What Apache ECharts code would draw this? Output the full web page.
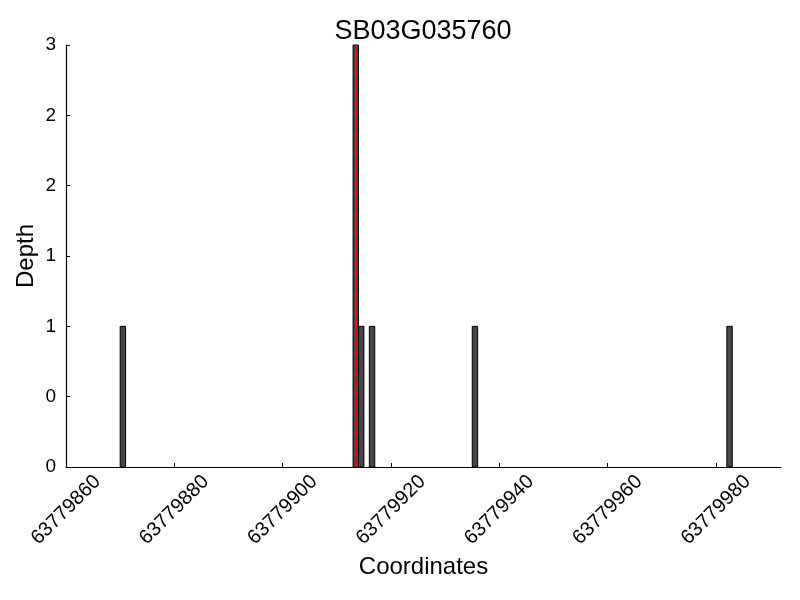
<!DOCTYPE html>
<html>
<head>
<meta charset="utf-8">
<script src="https://cdn.jsdelivr.net/npm/echarts@6/dist/echarts.min.js"></script>
<style>html,body{margin:0;padding:0;background:#fff}#c{width:800px;height:600px}</style>
</head>
<body>
<div id="c"></div>
<script>
const titleText = 'SB03G035760';
const positions = [63779870, 63779913, 63779914, 63779916, 63779935, 63779982];
const depths = [1, 3, 1, 1, 1, 1];
const xTicks = [63779860, 63779880, 63779900, 63779920, 63779940, 63779960, 63779980];
const yTicks = [0, 0.5, 1, 1.5, 2, 2.5, 3];
const markerX = 63779913.5;

const FONT = 'Liberation Sans, Arial, sans-serif';
const chart = echarts.init(document.getElementById('c'), null, {renderer: 'canvas'});
const barData = positions.map((p, i) => [p, depths[i]]);

chart.setOption({
  animation: false,
  backgroundColor: '#fff',
  title: {
    text: titleText,
    left: 418,
    top: 13,
    textAlign: 'center',
    textStyle: {fontFamily: FONT, fontSize: 27, fontWeight: 'normal', color: '#000'}
  },
  grid: {left: 66, right: 19, top: 45, bottom: 133, containLabel: false},
  xAxis: {
    type: 'value',
    min: 63779860,
    max: 63779992,
    interval: 20,
    name: 'Coordinates',
    nameLocation: 'middle',
    nameGap: 88,
    nameMoveOverlap: false,
    nameTextStyle: {fontFamily: FONT, fontSize: 24, color: '#000'},
    axisLine: {show: true, onZero: false, lineStyle: {color: '#000', width: 1.2}},
    axisTick: {show: true, inside: true, length: 4, customValues: xTicks, lineStyle: {color: '#000'}},
    axisLabel: {
      customValues: xTicks,
      rotate: 45,
      align: 'center',
      verticalAlign: 'middle',
      margin: 43,
      fontFamily: FONT, fontSize: 20, color: '#000',
      formatter: v => String(v)
    },
    splitLine: {show: false}
  },
  yAxis: {
    type: 'value',
    min: 0,
    max: 3,
    interval: 0.5,
    name: 'Depth',
    nameLocation: 'middle',
    nameGap: 28,
    nameMoveOverlap: false,
    nameTextStyle: {fontFamily: FONT, fontSize: 24, color: '#000'},
    axisLine: {show: true, onZero: false, lineStyle: {color: '#000', width: 1.2}},
    axisTick: {show: true, inside: true, length: 4, customValues: yTicks, lineStyle: {color: '#000'}},
    axisLabel: {
      customValues: yTicks,
      margin: 10,
      fontFamily: FONT, fontSize: 19, color: '#000',
      formatter: v => String(Math.trunc(v))
    },
    splitLine: {show: false}
  },
  series: [{
    type: 'custom',
    data: barData,
    renderItem: function (params, api) {
      const x = api.value(0), y = api.value(1);
      const p0 = api.coord([x, 0]);
      const p1 = api.coord([x + 1, y]);
      return {
        type: 'rect',
        shape: {x: p0[0], y: p1[1], width: p1[0] - p0[0], height: p0[1] - p1[1]},
        style: {fill: '#464646', stroke: '#000', lineWidth: 1}
      };
    },
    encode: {x: 0, y: 1},
    markLine: {
      silent: true,
      symbol: ['none', 'none'],
      label: {show: false},
      lineStyle: {color: '#ff0000', width: 2, type: [7, 3]},
      data: [{xAxis: markerX}]
    }
  }]
});
</script>
</body>
</html>
